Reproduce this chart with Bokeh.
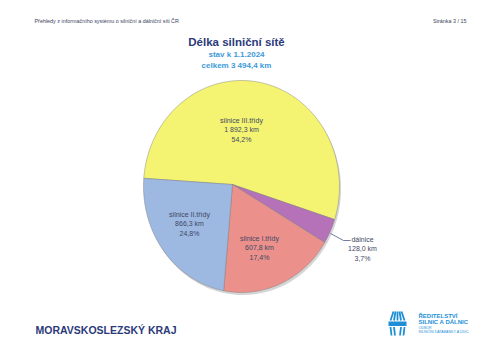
import numpy as np
from bokeh.plotting import figure
from bokeh.models import Range1d, ColumnDataSource
from bokeh.core.properties import value
from bokeh.embed import file_html
from bokeh.resources import INLINE

# ---- data ----
categories = ["silnice III.třídy", "dálnice", "silnice I.třídy", "silnice II.třídy"]
lengths_km = [1892.3, 128.0, 607.8, 866.3]
colors = ["#F4F472", "#B572B8", "#EC908C", "#9DB8E1"]
title = "Délka silniční sítě"
subtitle1 = "stav k 1.1.2024"
header_left = "Přehledy z informačního systému o silniční a dálniční síti ČR"
header_right = "Stránka 3 / 15"
region = "MORAVSKOSLEZSKÝ KRAJ"

total = sum(lengths_km)


def cz(v):
    return f"{v:,.1f}".replace(",", " ").replace(".", ",")


subtitle2 = f"celkem {cz(total)} km"

FONT = value("Liberation Sans")

p = figure(width=500, height=353, x_range=Range1d(0, 500), y_range=Range1d(353, 0),
           output_backend="svg", toolbar_location=None, min_border=0)
p.axis.visible = False
p.grid.visible = False
p.outline_line_color = None
p.background_fill_color = "white"
p.border_fill_color = "white"

# ---- pie geometry (screen-like coordinates) ----
vx, vy = 232.0, 184.0          # slice vertex
cx, cy, rx, ry = 241.0, 186.0, 98.0, 106.0   # outer ellipse
start_deg = 176.0


def boundary(theta):
    dx, dy = np.cos(theta), -np.sin(theta)
    ux, uy = vx - cx, vy - cy
    a = dx**2 / rx**2 + dy**2 / ry**2
    b = 2 * (ux * dx / rx**2 + uy * dy / ry**2)
    c = ux**2 / rx**2 + uy**2 / ry**2 - 1
    t = (-b + np.sqrt(b * b - 4 * a * c)) / (2 * a)
    return vx + t * dx, vy + t * dy


# shadow
tt = np.linspace(0, 2 * np.pi, 200)
p.patch(cx + 1.5 + rx * np.cos(tt), cy + 2.5 + ry * np.sin(tt), fill_color="#888888",
        fill_alpha=0.35, line_color=None)

xs, ys = [], []
ang = np.deg2rad(start_deg)
for v in lengths_km:
    span = 2 * np.pi * v / total
    th = np.linspace(ang, ang - span, max(4, int(np.degrees(span))))
    bx, by = boundary(th)
    xs.append([vx] + list(bx))
    ys.append([vy] + list(by))
    ang -= span

src = ColumnDataSource(dict(xs=xs, ys=ys, color=colors))
p.patches("xs", "ys", source=src, fill_color="color", line_color="#7d7d7d",
          line_alpha=0.55, line_width=0.8)

# ---- slice labels ----
label_pos = [(241, 120), (362, 239), (259, 238), (189, 214)]
lab_x, lab_y, lab_t = [], [], []
for (x0, y0), name, v in zip(label_pos, categories, lengths_km):
    lines = [name, f"{cz(v)} km", f"{cz(100 * v / total)}%"]
    for i, s in enumerate(lines):
        lab_x.append(x0)
        lab_y.append(y0 + 9.3 * i)
        lab_t.append(s)
p.text(x=lab_x, y=lab_y, text=lab_t, text_font=FONT, text_font_size="7px",
       text_align="center", text_baseline="middle", text_color="#414863")

# leader line for dálnice
p.line(x=[330, 343, 350], y=[233, 240, 240], line_color="#4a5a8a", line_width=0.8)

# ---- titles ----
p.text(x=[236], y=[41], text=[title], text_font=FONT, text_font_size="11.5px",
       text_font_style="bold", text_align="center", text_baseline="middle", text_color="#2b3a7a")
p.text(x=[236, 236], y=[54, 65], text=[subtitle1, subtitle2], text_font=FONT,
       text_font_size="8px", text_font_style="bold", text_align="center",
       text_baseline="middle", text_color="#3d9ad8")

p.text(x=[34], y=[20.5], text=[header_left], text_font=FONT, text_font_size="5.4px",
       text_align="left", text_baseline="middle", text_color="#3a3f5c")
p.text(x=[466], y=[20.5], text=[header_right], text_font=FONT, text_font_size="5.4px",
       text_align="right", text_baseline="middle", text_color="#3a3f5c")

p.text(x=[35], y=[329], text=[region], text_font=FONT, text_font_size="10.5px",
       text_font_style="bold", text_align="left", text_baseline="middle", text_color="#2b3a7a")

# ---- logo (approximation) ----
LB = "#1e8fd6"
p.quad(left=[388], right=[406], top=[321], bottom=[325.5], fill_color=LB, line_color=None)
p.segment(x0=[390, 393.5, 397, 400.5, 404], y0=[320, 320, 320, 320, 320],
          x1=[393, 395, 397, 399, 401], y1=[311, 311, 311, 311, 311],
          line_color=LB, line_width=1.8)
p.segment(x0=[390, 393.5, 400.5, 404], y0=[326.5, 326.5, 326.5, 326.5],
          x1=[391, 394.5, 399.5, 403], y1=[335, 335, 335, 335],
          line_color=LB, line_width=1.8)
p.text(x=[418, 418], y=[315.5, 321.5], text=["ŘEDITELSTVÍ", "SILNIC A DÁLNIC"], text_font=FONT,
       text_font_size="6px", text_font_style="bold", text_align="left",
       text_baseline="middle", text_color=LB)
p.text(x=[418, 418], y=[327.5, 331.5], text=["ODBOR", "SILNIČNÍ DATABANKY A ÚDIC"], text_font=FONT,
       text_font_size="3.6px", text_align="left", text_baseline="middle", text_color=LB)

open("out.html", "w").write(file_html(p, INLINE))
